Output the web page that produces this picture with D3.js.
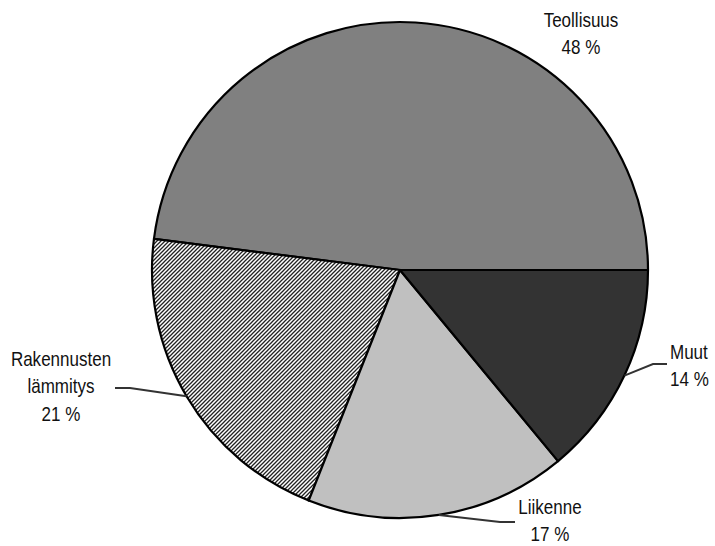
<!DOCTYPE html>
<html>
<head>
<meta charset="utf-8">
<script src="https://cdn.jsdelivr.net/npm/d3@7"></script>
<style>
  html, body { margin: 0; padding: 0; background: #fff; }
  svg { display: block; }
  text { font-family: "Liberation Sans", Arial, sans-serif; font-size: 20.5px; fill: #111; }
</style>
</head>
<body>
<svg id="chart" width="715" height="546"></svg>
<script>
// Data
const categories = ["Teollisuus", "Rakennusten lämmitys", "Liikenne", "Muut"];
const values = [48, 21, 17, 14];
const labelLines = [["Teollisuus", "48 %"], ["Rakennusten", "lämmitys", "21 %"], ["Liikenne", "17 %"], ["Muut", "14 %"]];
const fills = ["#808080", "url(#hatch)", "#c0c0c0", "#333333"];

const svg = d3.select("#chart");
const cx = 400, cy = 270, R = 248;

// Hatch pattern
const defs = svg.append("defs");
const pat = defs.append("pattern")
  .attr("id", "hatch").attr("patternUnits", "userSpaceOnUse")
  .attr("width", 4).attr("height", 4);
pat.append("rect").attr("width", 4).attr("height", 4).attr("fill", "#fff");
pat.append("path").attr("d", "M-1,1 l2,-2 M0,4 l4,-4 M3,5 l2,-2")
  .attr("stroke", "#222").attr("stroke-width", 1.3);

const pie = d3.pie().sort(null).value(d => d)
  .startAngle(Math.PI / 2).endAngle(Math.PI / 2 - 2 * Math.PI);
const arcs = pie(values);
const arc = d3.arc().innerRadius(0).outerRadius(R);

const g = svg.append("g").attr("transform", `translate(${cx},${cy})`);
g.selectAll("path.slice").data(arcs).join("path")
  .attr("class", "slice")
  .attr("d", arc)
  .attr("fill", (d, i) => fills[i])
  .attr("stroke", "#000").attr("stroke-width", 2.2).attr("stroke-linejoin", "round");

// Label positions (absolute) and leader elbows
const labelPos = [
  { x: 581, y: 27, anchor: "middle", leader: null },
  { x: 61, y: 366, anchor: "middle", leader: { elbow: [130, 388], end: [115, 388] } },
  { x: 550, y: 514, anchor: "middle", leader: { elbow: [500, 522], end: [515, 522] } },
  { x: 670, y: 359, anchor: "start", leader: { elbow: [653, 364], end: [667, 364] } }
];
const lineH = 27.5;
const squeeze = 0.83;

arcs.forEach((a, i) => {
  const lp = labelPos[i];
  if (lp.leader) {
    const mid = (a.startAngle + a.endAngle) / 2;
    const sx = cx + R * Math.sin(mid), sy = cy - R * Math.cos(mid);
    svg.append("polyline")
      .attr("points", [[sx, sy], lp.leader.elbow, lp.leader.end].map(p => p.join(",")).join(" "))
      .attr("fill", "none").attr("stroke", "#333").attr("stroke-width", 2);
  }
  const t = svg.append("text")
    .attr("text-anchor", lp.anchor)
    .attr("transform", `translate(${lp.x},${lp.y}) scale(${squeeze},1)`);
  labelLines[i].forEach((ln, j) => {
    t.append("tspan").attr("x", 0).attr("y", j * lineH).text(ln);
  });
});
</script>
</body>
</html>
